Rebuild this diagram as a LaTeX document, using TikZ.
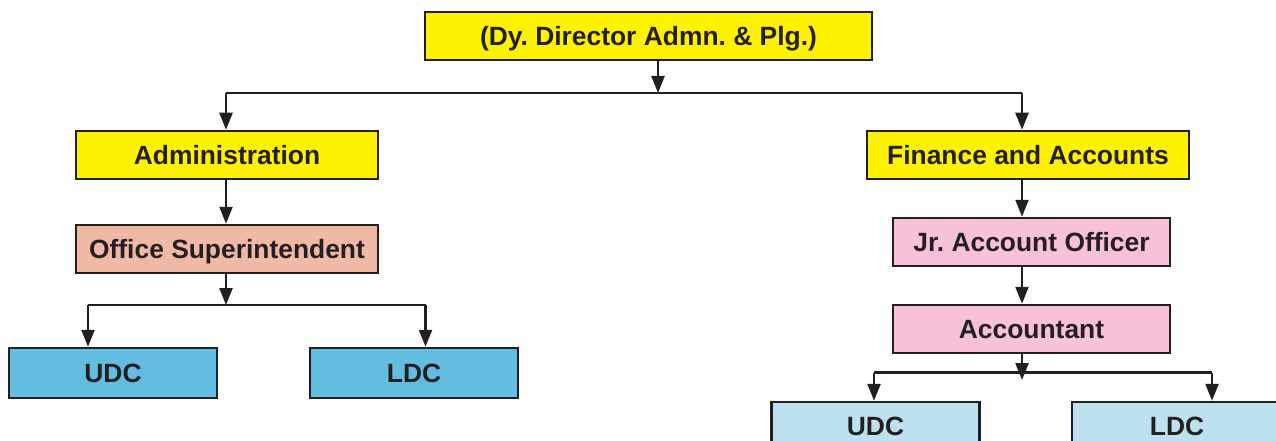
\documentclass[tikz,border=0pt]{standalone}
\usepackage{fontspec}
\setmainfont{Liberation Sans}
\usetikzlibrary{arrows.meta,positioning,calc}

\definecolor{boxyellow}{HTML}{FFF200}
\definecolor{boxsalmon}{HTML}{F0B9A6}
\definecolor{boxpink}{HTML}{F6C1D9}
\definecolor{boxblue}{HTML}{62BDE1}
\definecolor{boxpale}{HTML}{BEE1EF}
\definecolor{inkdark}{HTML}{231F20}

\begin{document}
\frenchspacing
\begin{tikzpicture}[x=1pt,y=-1pt,
  unit/.style={draw=inkdark,line width=2.5pt,rectangle,inner sep=0pt,
    font=\fontsize{26.4}{30}\selectfont\bfseries,text=inkdark,
    text height=19pt,text depth=0pt,minimum height=48pt},
  link/.style={draw=inkdark,line width=2.4pt},
  feed/.style={link,-{Triangle[length=17pt,width=13pt]}}]
\useasboundingbox (0,0) rectangle (1276,441);

% Offices
\node[unit,fill=boxyellow,minimum width=447pt] (dydir) at (648.5,36) {(Dy. Director Admn. \& Plg.)};
\node[unit,fill=boxyellow,minimum width=302pt] (admn) at (227,155) {Administration};
\node[unit,fill=boxsalmon,minimum width=302pt] (offsupt) at (227,249) {Office Superintendent};
\node[unit,fill=boxblue,minimum width=208pt,minimum height=50pt] (udca) at (113,373) {UDC};
\node[unit,fill=boxblue,minimum width=208pt,minimum height=50pt] (ldca) at (414,373) {LDC};
\node[unit,fill=boxyellow,minimum width=322pt] (finacc) at (1028,155) {Finance and Accounts};
\node[unit,fill=boxpink,minimum width=277pt] (jao) at (1031.5,242) {Jr. Account Officer};
\node[unit,fill=boxpink,minimum width=277pt] (acctnt) at (1031.5,329) {Accountant};
\node[unit,fill=boxpale,minimum width=208pt] (udcf) at (875.5,426) {UDC};
\node[unit,fill=boxpale,minimum width=210pt] (ldcf) at (1177,426) {LDC};

% Junctions
\coordinate (topjn) at (658,93);
\coordinate (admjn) at (226,93);
\coordinate (finjn) at (1022,93);
\coordinate (osjn) at (226,305);
\coordinate (udcajn) at (88,305);
\coordinate (ldcajn) at (425.5,305);
\coordinate (acjn) at (1022,380);
\coordinate (udcfjn) at (874,372.5);
\coordinate (ldcfjn) at (1212,372.5);

% Top level
\draw[feed] (dydir.south -| topjn) -- (topjn);
\draw[link] (admjn) -- (finjn);
\draw[feed] (admjn) -- (admn.north -| admjn);
\draw[feed] (finjn) -- (finacc.north -| finjn);

% Administration branch
\draw[feed] (admn.south -| admjn) -- (offsupt.north -| admjn);
\draw[feed] (offsupt.south -| osjn) -- (osjn);
\draw[link] (udcajn) -- (ldcajn);
\draw[feed] (udcajn) -- (udca.north -| udcajn);
\draw[feed] (ldcajn) -- (ldca.north -| ldcajn);

% Finance branch
\draw[feed] (finacc.south -| finjn) -- (jao.north -| finjn);
\draw[feed] (jao.south -| finjn) -- (acctnt.north -| finjn);
\draw[feed] (acctnt.south -| acjn) -- (acjn);
\draw[link] (udcfjn) -- (ldcfjn);
\draw[feed] (udcfjn) -- (udcf.north -| udcfjn);
\draw[feed] (ldcfjn) -- (ldcf.north -| ldcfjn);
\end{tikzpicture}
\end{document}
